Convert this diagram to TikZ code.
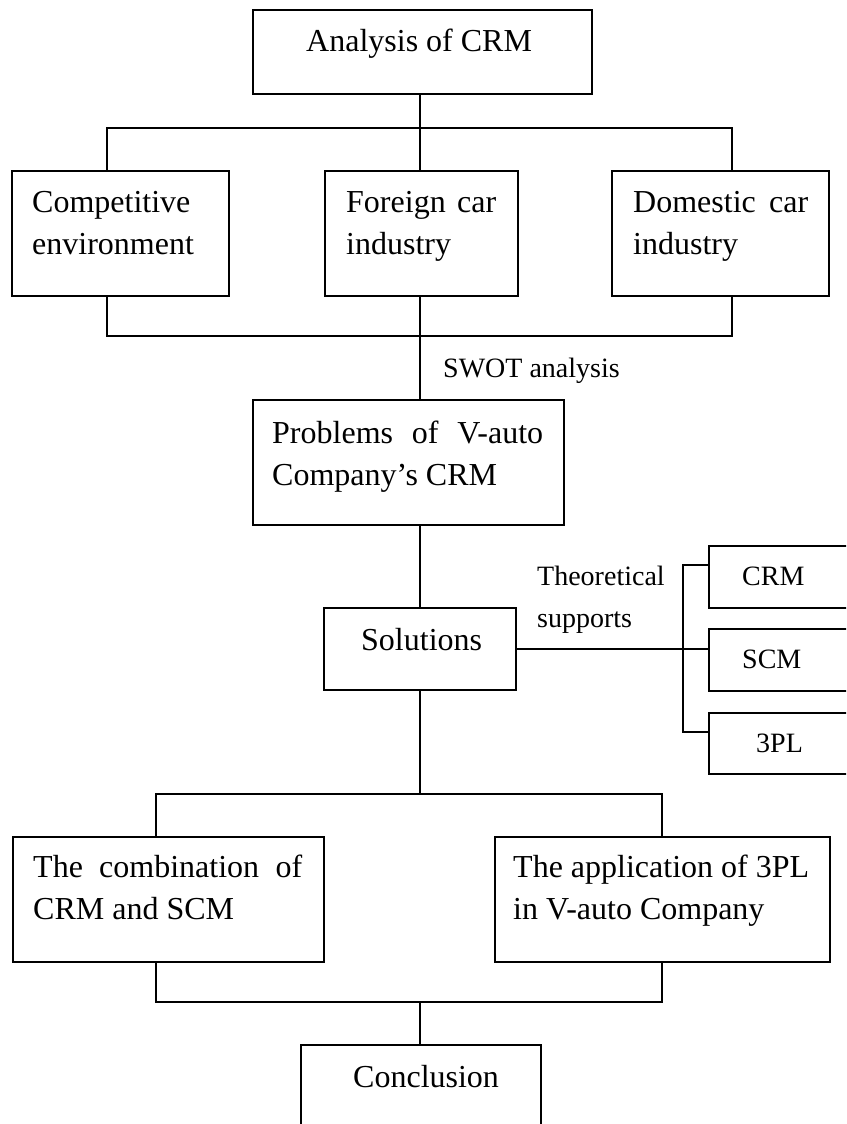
\documentclass[tikz,border=0pt]{standalone}
\usepackage{fontspec}
\setmainfont{Liberation Serif}
\begin{document}
\begin{tikzpicture}[x=1pt,y=-1pt,
  box/.style={draw, line width=1.6pt, inner sep=0pt, anchor=north west},
  wire/.style={line width=1.4pt},
  big/.style={font=\fontsize{32}{42}\selectfont, inner sep=0pt, anchor=base west, align=left},
  small/.style={font=\fontsize{28}{42}\selectfont, inner sep=0pt, anchor=base west, align=left}]
\useasboundingbox (0,0) rectangle (846,1124);
\clip (0,0) rectangle (846,1124);

% boxes
\node[box, minimum width=339, minimum height=84]  (top)  at (252,9)    {};
\node[box, minimum width=217, minimum height=125] (comp) at (11,170)   {};
\node[box, minimum width=193, minimum height=125] (forn) at (324,170)  {};
\node[box, minimum width=217, minimum height=125] (dom)  at (611,170)  {};
\node[box, minimum width=311, minimum height=125] (prob) at (252,399)  {};
\node[box, minimum width=192, minimum height=82]  (sol)  at (323,607)  {};
\node[box, minimum width=160, minimum height=62]  (crm)  at (708,545)  {};
\node[box, minimum width=160, minimum height=62]  (scm)  at (708,628)  {};
\node[box, minimum width=160, minimum height=61]  (tpl)  at (708,712)  {};
\node[box, minimum width=311, minimum height=125] (comb) at (12,836)   {};
\node[box, minimum width=335, minimum height=125] (app)  at (494,836)  {};
\node[box, minimum width=240, minimum height=100] (conc) at (300,1044) {};

% texts (multi-line nodes sit on the baseline of their last line)
\node[big] (top-t)  at (306,52)  {Analysis of CRM};
\node[big] (comp-t) at (32,254)  {Competitive\\environment};
\node[big] (forn-t) at (346,254) {\makebox[150pt][s]{Foreign car}\\industry};
\node[big] (dom-t)  at (633,254) {\makebox[175pt][s]{Domestic car}\\industry};
\node[small] (swot) at (443,377) {SWOT analysis};
\node[big] (prob-t) at (272,485) {\makebox[271pt][s]{Problems of V-auto}\\Company’s CRM};
\node[big] (sol-t)  at (361,650) {Solutions};
\node[small] (theo) at (537,627) {Theoretical\\supports};
\node[small] (crm-t) at (742,585) {CRM};
\node[small] (scm-t) at (742,668) {SCM};
\node[small] (tpl-t) at (756,752) {3PL};
\node[big] (comb-t) at (33,919)  {\makebox[269pt][s]{The combination of}\\CRM and SCM};
\node[big] (app-t)  at (513,919) {The application of 3PL\\in V-auto Company};
\node[big] (conc-t) at (353,1087) {Conclusion};

% bus lines
\coordinate (trunk) at (420,0);
\coordinate (b1l) at (107,128);  \coordinate (b1r) at (732,128);
\coordinate (b2l) at (107,336);  \coordinate (b2r) at (732,336);
\coordinate (b3l) at (156,794);  \coordinate (b3r) at (662,794);
\coordinate (b4l) at (156,1002); \coordinate (b4r) at (662,1002);
\coordinate (brtop) at (683,565); \coordinate (brbot) at (683,732);

% top fan-out
\draw[wire] (trunk |- top.south) -- (trunk |- b1l);
\draw[wire] (b1l |- comp.north) -- (b1l) -- (b1r) -- (b1r |- dom.north);
\draw[wire] (trunk |- b1l) -- (trunk |- forn.north);

% fan-in to problems
\draw[wire] (b2l |- comp.south) -- (b2l) -- (b2r) -- (b2r |- dom.south);
\draw[wire] (trunk |- forn.south) -- (trunk |- prob.north);

% problems to solutions
\draw[wire] (trunk |- prob.south) -- (trunk |- sol.north);

% theoretical supports
\draw[wire] (sol.east) -- (sol.east -| scm.west);
\draw[wire] (crm.west |- brtop) -- (brtop) -- (brbot) -- (tpl.west |- brbot);

% solutions to the two branches
\draw[wire] (trunk |- sol.south) -- (trunk |- b3l);
\draw[wire] (b3l |- comb.north) -- (b3l) -- (b3r) -- (b3r |- app.north);

% branches to conclusion
\draw[wire] (b4l |- comb.south) -- (b4l) -- (b4r) -- (b4r |- app.south);
\draw[wire] (trunk |- b4l) -- (trunk |- conc.north);
\end{tikzpicture}
\end{document}
